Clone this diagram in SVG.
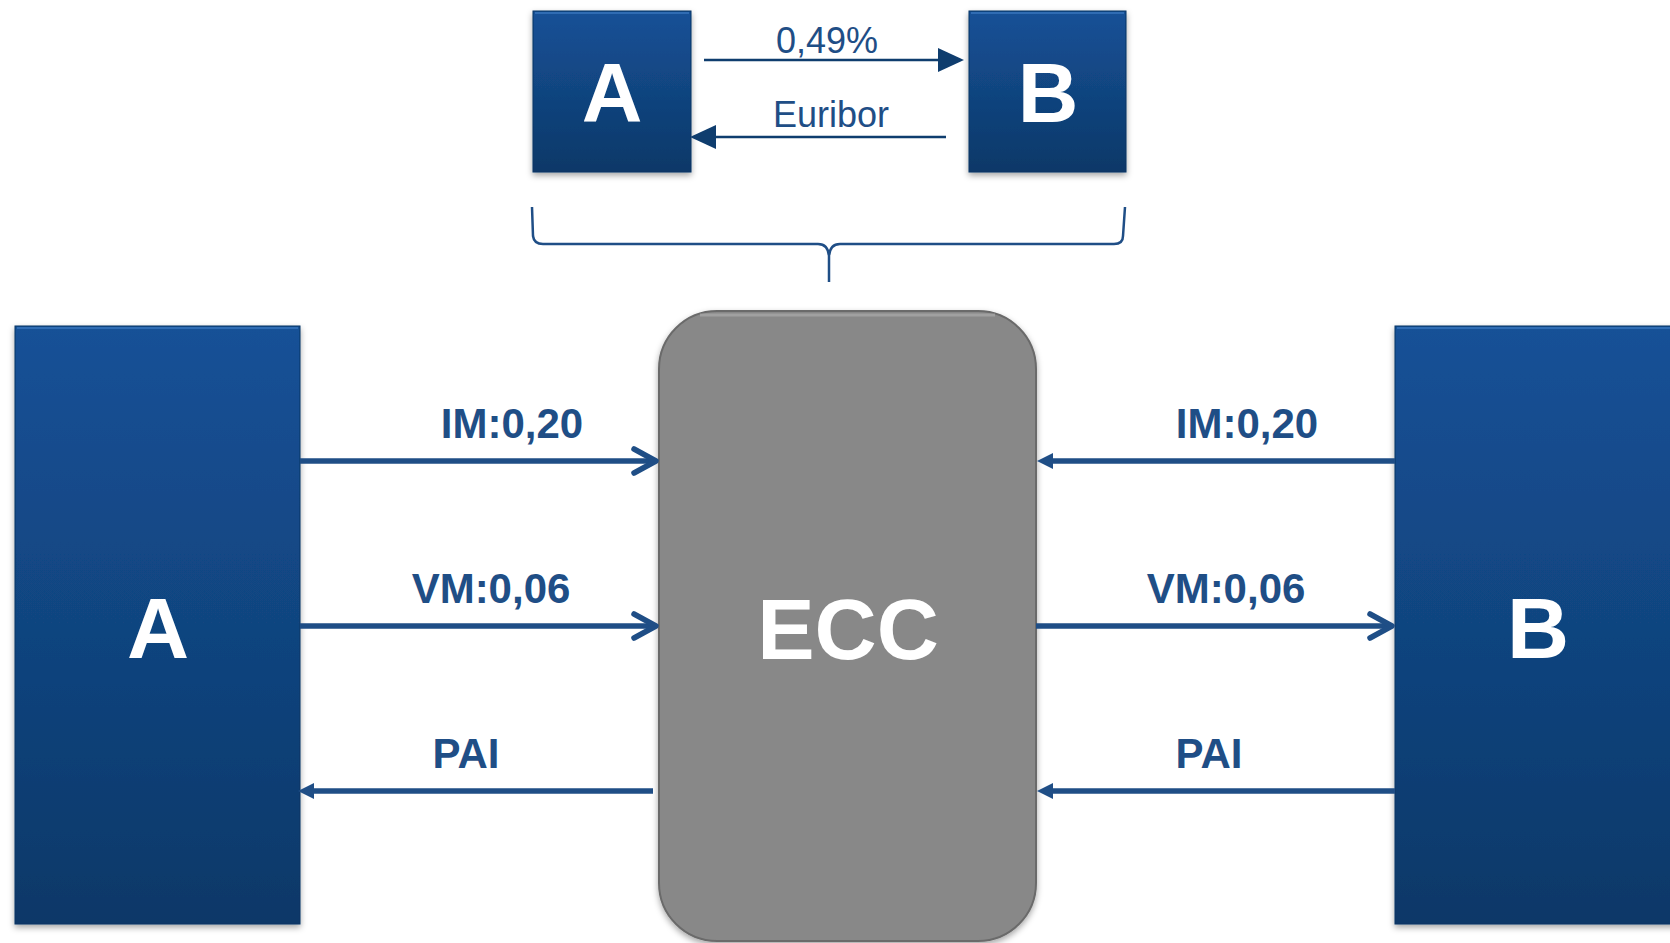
<svg xmlns="http://www.w3.org/2000/svg" width="1670" height="943" viewBox="0 0 1670 943">
<style>
.box{fill:url(#blueGrad);stroke:#0d3563;stroke-width:1}
.bevel{fill:none;stroke:#3a78bf;stroke-width:2;opacity:0.7}
.big{font-family:"Liberation Sans",Arial,sans-serif;font-weight:bold;fill:#ffffff;text-anchor:middle}
.lbl{font-family:"Liberation Sans",Arial,sans-serif;font-weight:bold;fill:#1f4e86;text-anchor:middle;font-size:42px}
.top{font-family:"Liberation Sans",Arial,sans-serif;fill:#1f4e86;text-anchor:middle;font-size:36px}
.conn{stroke:#1f4e86;stroke-width:5.5;fill:none}
.thin{stroke:#0f3d6e;stroke-width:2.5;fill:none}
.chev{stroke:#1f4e86;stroke-width:5.5;fill:none;stroke-linecap:round;stroke-linejoin:round}
.tri{fill:#1f4e86}
.tri2{fill:#0f3d6e}
</style>
<defs>
<linearGradient id="blueGrad" x1="0" y1="0" x2="0" y2="1">
<stop offset="0" stop-color="#155197"/>
<stop offset="1" stop-color="#0d3868"/>
</linearGradient>
<filter id="shadow" x="-10%" y="-10%" width="120%" height="120%">
<feDropShadow dx="0" dy="3" stdDeviation="3" flood-color="#000000" flood-opacity="0.35"/>
</filter>
</defs>
<rect width="1670" height="943" fill="#ffffff"/>

<g id="topA">
<rect class="box" x="533" y="11" width="158" height="161" filter="url(#shadow)"/>
<path class="bevel" d="M535 13 H689"/>
<text class="big" x="612" y="122" font-size="84">A</text>
</g>
<g id="topB">
<rect class="box" x="969" y="11" width="157" height="161" filter="url(#shadow)"/>
<path class="bevel" d="M971 13 H1124"/>
<text class="big" x="1048" y="122" font-size="84">B</text>
</g>

<g id="bigA">
<rect class="box" x="15" y="326" width="285" height="598" filter="url(#shadow)"/>
<path class="bevel" d="M17 328 H298"/>
<text class="big" x="158" y="658" font-size="86">A</text>
</g>
<g id="ECC">
<rect x="659" y="311" width="377" height="630" rx="58" ry="58" fill="#888888" stroke="#6a6a6a" stroke-width="2" filter="url(#shadow)"/>
<path d="M700 315 H995" stroke="#b0b0b0" stroke-width="3" fill="none" opacity="0.6"/>
<text class="big" x="848" y="659" font-size="86">ECC</text>
</g>
<g id="bigB">
<rect class="box" x="1395" y="326" width="290" height="598" filter="url(#shadow)"/>
<path class="bevel" d="M1397 328 H1670"/>
<text class="big" x="1538" y="658" font-size="86">B</text>
</g>

<g id="connectors">
<line class="thin" x1="704" y1="60" x2="942" y2="60"/>
<polygon class="tri2" points="964,60 938,48 938,72"/>
<line class="thin" x1="946" y1="137" x2="712" y2="137"/>
<polygon class="tri2" points="690,137 716,125 716,149"/>
<path d="M532 207 L533 236 Q534 244 543 244 L818 244 Q828 244 829 256 L829 282 M829 256 Q830 244 840 244 L1114 244 Q1123 244 1123 236 L1125 207" stroke="#1f4e86" stroke-width="2.5" fill="none"/>

<line class="conn" x1="300" y1="461" x2="655" y2="461"/>
<polyline class="chev" points="634,449 656,461 634,473"/>
<line class="conn" x1="300" y1="626" x2="655" y2="626"/>
<polyline class="chev" points="634,614 656,626 634,638"/>
<line class="conn" x1="653" y1="791" x2="312" y2="791"/>
<polygon class="tri" points="298,791 314,783 314,799"/>

<line class="conn" x1="1395" y1="461" x2="1050" y2="461"/>
<polygon class="tri" points="1037,461 1053,453 1053,469"/>
<line class="conn" x1="1036" y1="626" x2="1390" y2="626"/>
<polyline class="chev" points="1370,614 1392,626 1370,638"/>
<line class="conn" x1="1395" y1="791" x2="1050" y2="791"/>
<polygon class="tri" points="1037,791 1053,783 1053,799"/>
</g>

<g id="labels">
<text class="top" x="827" y="53">0,49%</text>
<text class="top" x="831" y="127">Euribor</text>
<text class="lbl" x="512" y="438">IM:0,20</text>
<text class="lbl" x="491" y="603">VM:0,06</text>
<text class="lbl" x="466" y="768">PAI</text>
<text class="lbl" x="1247" y="438">IM:0,20</text>
<text class="lbl" x="1226" y="603">VM:0,06</text>
<text class="lbl" x="1209" y="768">PAI</text>
</g>
</svg>
